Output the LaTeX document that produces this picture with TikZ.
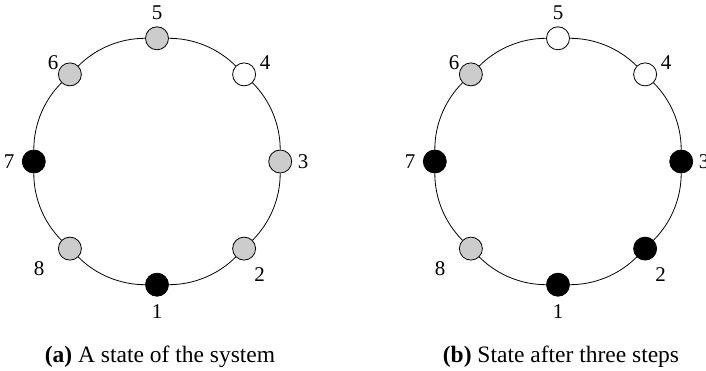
\documentclass[tikz,border=0pt]{standalone}
\usepackage{fontspec}
\setmainfont{Liberation Serif}
\begin{document}
\begin{tikzpicture}[x=1pt,y=-1pt,
  dot/.style={circle,draw,line width=0.8pt,minimum size=23pt,inner sep=0pt},
  blk/.style={dot,fill=black},
  gry/.style={dot,fill=gray!40},
  wht/.style={dot,fill=white},
  lab/.style={font=\fontsize{21}{25}\selectfont,inner sep=0pt},
  captxt/.style={font=\fontsize{23.5}{28}\selectfont,anchor=base,inner sep=0pt},
  ring/.style={line width=0.8pt,bend right=22.5,looseness=0.885}]
\useasboundingbox (0,0) rectangle (706,371);
% ---------- left ----------
\coordinate (cL) at (157,161.5);
\node[blk] (L1) at ([shift={(90:123.2)}]cL) {};
\node[gry] (L2) at ([shift={(45:123.2)}]cL) {};
\node[gry] (L3) at ([shift={(0:123.2)}]cL) {};
\node[wht] (L4) at ([shift={(-45:123.2)}]cL) {};
\node[gry] (L5) at ([shift={(-90:123.2)}]cL) {};
\node[gry] (L6) at ([shift={(-135:123.2)}]cL) {};
\node[blk] (L7) at ([shift={(180:123.2)}]cL) {};
\node[gry] (L8) at ([shift={(135:123.2)}]cL) {};
\draw[ring] (L1) to (L2);
\draw[ring] (L2) to (L3);
\draw[ring] (L3) to (L4);
\draw[ring] (L4) to (L5);
\draw[ring] (L5) to (L6);
\draw[ring] (L6) to (L7);
\draw[ring] (L7) to (L8);
\draw[ring] (L8) to (L1);
\node[lab] (tL1) at ([shift={(0,150.5)}]cL) {1};
\node[lab] (tL2) at ([shift={(102.5,113.5)}]cL) {2};
\node[lab] (tL3) at ([shift={(146,0.5)}]cL) {3};
\node[lab] (tL4) at ([shift={(108,-98.5)}]cL) {4};
\node[lab] (tL5) at ([shift={(0,-148.5)}]cL) {5};
\node[lab] (tL6) at ([shift={(-104,-98.5)}]cL) {6};
\node[lab] (tL7) at ([shift={(-148,0.5)}]cL) {7};
\node[lab] (tL8) at ([shift={(-118,107.5)}]cL) {8};
\node[captxt] (capA) at (160,362) {\textbf{(a)} A state of the system};
% ---------- right ----------
\coordinate (cR) at (558,161.5);
\node[blk] (R1) at ([shift={(90:123.2)}]cR) {};
\node[blk] (R2) at ([shift={(45:123.2)}]cR) {};
\node[blk] (R3) at ([shift={(0:123.2)}]cR) {};
\node[wht] (R4) at ([shift={(-45:123.2)}]cR) {};
\node[wht] (R5) at ([shift={(-90:123.2)}]cR) {};
\node[gry] (R6) at ([shift={(-135:123.2)}]cR) {};
\node[blk] (R7) at ([shift={(180:123.2)}]cR) {};
\node[gry] (R8) at ([shift={(135:123.2)}]cR) {};
\draw[ring] (R1) to (R2);
\draw[ring] (R2) to (R3);
\draw[ring] (R3) to (R4);
\draw[ring] (R4) to (R5);
\draw[ring] (R5) to (R6);
\draw[ring] (R6) to (R7);
\draw[ring] (R7) to (R8);
\draw[ring] (R8) to (R1);
\node[lab] (tR1) at ([shift={(0,150.5)}]cR) {1};
\node[lab] (tR2) at ([shift={(102.5,113.5)}]cR) {2};
\node[lab] (tR3) at ([shift={(146,0.5)}]cR) {3};
\node[lab] (tR4) at ([shift={(108,-98.5)}]cR) {4};
\node[lab] (tR5) at ([shift={(0,-148.5)}]cR) {5};
\node[lab] (tR6) at ([shift={(-104,-98.5)}]cR) {6};
\node[lab] (tR7) at ([shift={(-148,0.5)}]cR) {7};
\node[lab] (tR8) at ([shift={(-118,107.5)}]cR) {8};
\node[captxt] (capB) at (561,362) {\textbf{(b)} State after three steps};
\end{tikzpicture}
\end{document}
